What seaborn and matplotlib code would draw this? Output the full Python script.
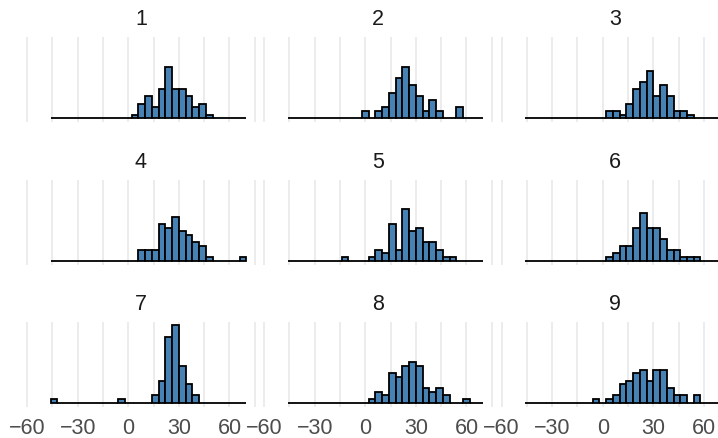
import numpy as np
import pandas as pd
import matplotlib
matplotlib.use("Agg")
import matplotlib.pyplot as plt
import seaborn as sns

# ---- data: histogram counts per facet (29 bins of width 4 from -46 to 70) ----
bin_edges = list(range(-46, 71, 4))
panels = [1, 2, 3, 4, 5, 6, 7, 8, 9]

#            -46 ...                                   ... 70
counts_1 = [0,0,0,0,0,0,0,0,0,0,0,0,1,4,6,3,8,14,8,8,6,3,4,1,0,0,0,0,0]
counts_2 = [0,0,0,0,0,0,0,0,0,0,0,2,0,2,3,7,11,14,9,6,2,5,2,0,0,3,0,0,0]
counts_3 = [0,0,0,0,0,0,0,0,0,0,0,0,2,2,1,4,8,10,13,6,9,6,2,2,1,0,0,0,0]
counts_4 = [0,0,0,0,0,0,0,0,0,0,0,0,0,3,3,3,10,9,12,8,7,5,4,1,0,0,0,0,1]
counts_5 = [0,0,0,0,0,0,0,0,1,0,0,0,1,3,2,10,3,14,8,9,5,5,3,1,1,0,0,0,0]
counts_6 = [0,0,0,0,0,0,0,0,0,0,0,0,1,2,4,4,9,13,9,9,6,3,3,1,1,1,0,0,0]
counts_7 = [1,0,0,0,0,0,0,0,0,0,1,0,0,0,0,2,6,18,21,10,5,2,0,0,0,0,0,0,0]
counts_8 = [0,0,0,0,0,0,0,0,0,0,0,0,1,3,2,8,7,10,11,10,4,3,4,2,0,0,1,0,0]
counts_9 = [0,0,0,0,0,0,0,0,0,0,1,0,1,2,5,6,8,9,6,9,9,4,2,2,0,2,0,0,0]

all_counts = [counts_1, counts_2, counts_3, counts_4, counts_5,
              counts_6, counts_7, counts_8, counts_9]

x_ticks = [-60, -30, 0, 30, 60]
x_minor = [-45, -15, 15, 45, 75]

# ---- build long table ----
centers = [(bin_edges[i] + bin_edges[i + 1]) / 2 for i in range(len(bin_edges) - 1)]
rows = []
for p, cnts in zip(panels, all_counts):
    for c, n in zip(centers, cnts):
        rows.append({"panel": p, "value": c, "count": n})
df = pd.DataFrame(rows)

sns.set_theme(style="white")
plt.rcParams["font.family"] = ["Liberation Sans", "DejaVu Sans"]

W, H = 718, 438
g = sns.FacetGrid(df, col="panel", col_wrap=3, sharex=True, sharey=True,
                  height=1.4, aspect=1.6, despine=False)
g.map_dataframe(sns.histplot, x="value", weights="count", bins=bin_edges,
                color="#4682B4", edgecolor="black", linewidth=1.3, alpha=1.0)
fig = g.figure
fig.set_size_inches(W / 100, H / 100)
fig.set_dpi(100)
fig.patch.set_facecolor("white")

xlim = (-62, 77)
px_per_unit = 1.686
width_px = (xlim[1] - xlim[0]) * px_per_unit
zeros_px = [128.3, 365.3, 602.7]
tops_px = [37.2, 179.6, 321.6]
height_px = 85

g.set_titles("{col_name}")
for i, ax in enumerate(g.axes.flat):
    r, c = divmod(i, 3)
    left = zeros_px[c] + xlim[0] * px_per_unit
    bottom = H - (tops_px[r] + height_px)
    ax.set_position([left / W, bottom / H, width_px / W, height_px / H])
    ax.set_xlim(*xlim)
    ax.set_ylim(-1.05, 22.05)
    ax.set_xticks(x_ticks)
    ax.set_xticks(x_minor, minor=True)
    ax.set_yticks([])
    ax.grid(axis="x", which="both", color="#EBEBEB", linewidth=1.3)
    ax.set_axisbelow(True)
    for s in ax.spines.values():
        s.set_visible(False)
    ax.tick_params(axis="x", which="both", length=0, pad=8.5,
                   labelsize=15.5, labelcolor="#4D4D4D")
    ax.set_xlabel("")
    ax.set_ylabel("")
    ax.set_title(str(panels[i]), fontsize=15.5, color="#1A1A1A", pad=8.5)
    if r < 2:
        ax.tick_params(axis="x", labelbottom=False)

fig.savefig("out.png", dpi=100, facecolor="white")
